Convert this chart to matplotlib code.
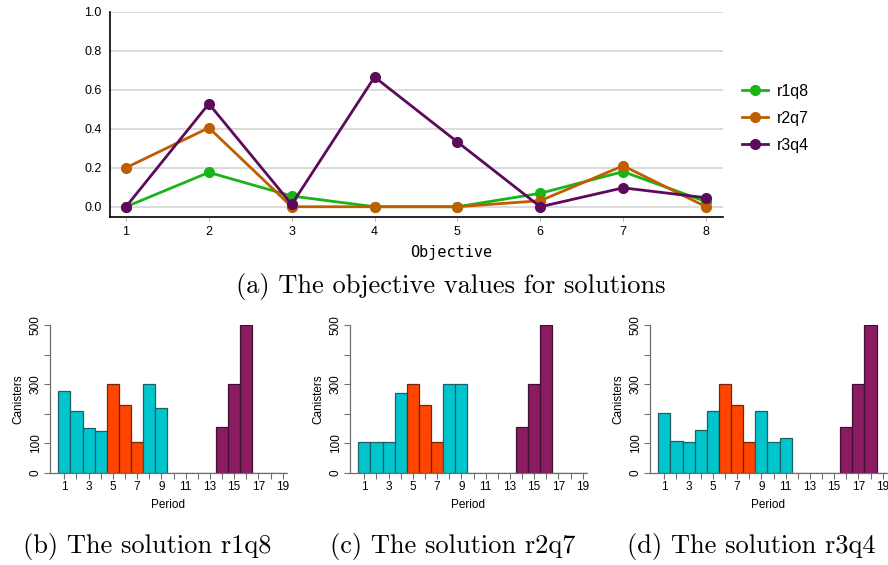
import matplotlib
matplotlib.use("Agg")
import matplotlib.pyplot as plt
import numpy as np

plt.rcParams['font.family'] = ['Liberation Sans', 'DejaVu Sans']

# objective values per solution
objectives = [1, 2, 3, 4, 5, 6, 7, 8]
r1q8 = [0.0, 0.176, 0.055, 0.0, 0.0, 0.069, 0.18, 0.026]
r2q7 = [0.2, 0.405, 0.0, 0.0, 0.0, 0.031, 0.21, 0.0]
r3q4 = [0.0, 0.528, 0.012, 0.665, 0.332, 0.0, 0.097, 0.046]

# canisters per period
periods = list(range(1, 20))
sol_b = [276, 209, 151, 141, 300, 229, 104, 300, 219, 0, 0, 0, 0, 155, 300, 500, 0, 0, 0]
grp_b = ['c', 'c', 'c', 'c', 'o', 'o', 'o', 'c', 'c', 'c', 'c', 'c', 'c', 'p', 'p', 'p', 'c', 'c', 'c']
sol_c = [104, 104, 104, 271, 300, 229, 104, 300, 300, 0, 0, 0, 0, 155, 300, 500, 0, 0, 0]
grp_c = ['c', 'c', 'c', 'c', 'o', 'o', 'o', 'c', 'c', 'c', 'c', 'c', 'c', 'p', 'p', 'p', 'c', 'c', 'c']
sol_d = [201, 109, 104, 143, 208, 300, 229, 104, 208, 104, 117, 0, 0, 0, 0, 155, 300, 500, 0]
grp_d = ['c', 'c', 'c', 'c', 'c', 'o', 'o', 'o', 'c', 'c', 'c', 'c', 'c', 'c', 'c', 'p', 'p', 'p', 'c']

bar_colors = {'c': '#00C5CD', 'o': '#FF4500', 'p': '#8B1C62'}
edge_colors = {'c': '#1f5f63', 'o': '#6b2a10', 'p': '#3f1030'}

W, H = 888, 565
fig = plt.figure(figsize=(W / 100, H / 100), dpi=100)


def px_axes(x0, y0, x1, y1):
    return fig.add_axes([x0 / W, 1 - y1 / H, (x1 - x0) / W, (y1 - y0) / H])


# ---- (a) line chart
ax = px_axes(110, 11.7, 723, 216.7)
series = [('r1q8', r1q8, '#18b418'), ('r2q7', r2q7, '#bf5e00'), ('r3q4', r3q4, '#5c0a5c')]
for name, vals, col in series:
    ax.plot(objectives, vals, color=col, lw=2, marker='o', markersize=7, label=name, zorder=3)
ax.set_xlim(0.807, 8.205)
ax.set_ylim(-0.051, 1.0)
ax.set_yticks([0.0, 0.2, 0.4, 0.6, 0.8, 1.0])
ax.set_yticklabels(['0.0', '0.2', '0.4', '0.6', '0.8', '1.0'])
ax.set_xticks(objectives)
ax.grid(axis='y', color='#d4d4d4', lw=1.2)
ax.set_axisbelow(True)
for s in ['top', 'right']:
    ax.spines[s].set_visible(False)
ax.spines['left'].set_linewidth(1.2)
ax.spines['bottom'].set_linewidth(1.2)
ax.tick_params(axis='y', length=0, labelsize=9, pad=6)
ax.tick_params(axis='x', length=3, color='#bbbbbb', labelsize=9, pad=4)
ax.set_xlabel('Objective', family='DejaVu Sans Mono', fontsize=11, labelpad=3)
ax.xaxis.set_label_coords((451 - 110) / 613, -0.14)
ax.legend(loc='center left', bbox_to_anchor=(1.008, 0.479), frameon=False,
          fontsize=11.5, handlelength=1.6, handletextpad=0.55, labelspacing=0.75)

fig.text(451 / W, 1 - 287 / H, '(a) The objective values for solutions',
         family='cmr10', fontsize=19, ha='center', va='center')

# ---- (b)(c)(d) bar charts
panels = [(50, sol_b, grp_b, '(b) The solution r1q8', 147),
          (350, sol_c, grp_c, '(c) The solution r2q7', 453),
          (650, sol_d, grp_d, '(d) The solution r3q4', 751)]
for x0, vals, grp, cap, cx in panels:
    bx = px_axes(x0, 325, x0 + 236.7, 472.7)
    bx.bar(periods, vals, width=1.0,
           color=[bar_colors[g] for g in grp],
           edgecolor=[edge_colors[g] for g in grp], linewidth=0.9)
    bx.set_xlim(-0.18, 19.33)
    bx.set_ylim(0, 500)
    for s in ['top', 'right']:
        bx.spines[s].set_visible(False)
    for s in ['left', 'bottom']:
        bx.spines[s].set_color('#707070')
        bx.spines[s].set_linewidth(0.9)
    bx.set_xticks(periods)
    bx.set_xticklabels([str(p) if p % 2 == 1 else '' for p in periods])
    bx.set_yticks([0, 100, 200, 300, 400, 500])
    bx.set_yticklabels(['0', '100', '', '300', '', '500'], rotation=90, va='center')
    bx.tick_params(length=4, color='#707070', labelsize=8.5, pad=2)
    bx.set_ylabel('Canisters', fontsize=8.5, labelpad=4)
    bx.set_xlabel('Period', fontsize=8.5, labelpad=4)
    fig.text(cx / W, 1 - 547 / H, cap, family='cmr10', fontsize=19,
             ha='center', va='center')

fig.savefig('out.png', dpi=100)
